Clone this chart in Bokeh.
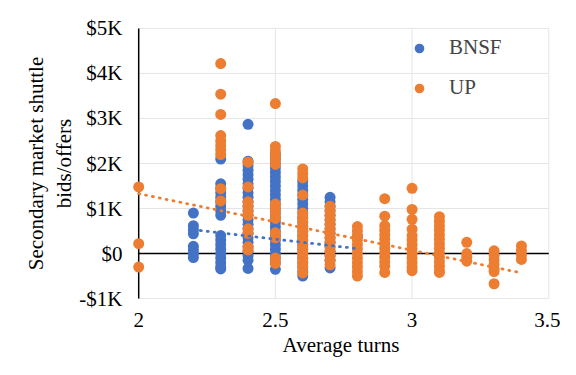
from bokeh.plotting import figure
from bokeh.models import Range1d, FixedTicker, CustomJSTickFormatter, Legend, LegendItem
from bokeh.embed import file_html
from bokeh.resources import INLINE

# ---- data (turns, bids/offers in $) ----
bnsf_turns = ([2.2] * 8 + [2.3] * 18 + [2.4] * 25 + [2.5] * 26 + [2.6] * 22 + [2.7] * 16 + [2.8])
bnsf_bids = [
    # 2.2
    900, 620, 530, 440, 160, 80, 0, -90,
    # 2.3
    2100, 1550, 1450, 1350, 1250, 1150, 1050, 950, 850, 400, 300, 200, 100, 0, -100, -200, -300, -340,
    # 2.4
    2870, 2050, 1950, 1850, 1750, 1650, 1550, 1450, 1350, 1250, 1150, 1050, 950, 850, 750, 650, 550,
    450, 350, 250, 150, 50, -50, -150, -330,
    # 2.5
    2200, 2100, 2000, 1900, 1800, 1700, 1600, 1500, 1400, 1300, 1200, 1100, 1000, 900, 800, 700, 600,
    500, 400, 300, 200, 100, 0, -100, -200, -350,
    # 2.6
    1600, 1500, 1400, 1300, 1200, 1100, 1000, 900, 800, 700, 600, 500, 400, 300, 200, 100, 0, -100,
    -200, -300, -400, -500,
    # 2.7
    1250, 1150, 1050, 950, 850, 750, 650, 550, 450, 350, 250, 150, 50, -50, -150, -320,
    # 2.8
    380,
]
up_turns = ([2.0] * 3 + [2.3] * 10 + [2.4] * 10 + [2.5] * 14 + [2.6] * 18 + [2.7] * 14 + [2.8] * 12
            + [2.9] * 13 + [3.0] * 13 + [3.1] * 14 + [3.2] * 4 + [3.3] * 7 + [3.4] * 4)
up_bids = [
    # 2.0
    1480, 220, -300,
    # 2.3
    4220, 3540, 3090, 2620, 2500, 2400, 2300, 2200, 1440, 1170,
    # 2.4
    2030, 1480, 1150, 1050, 950, 850, 550, 450, 150, 80,
    # 2.5
    3330, 2380, 2280, 2180, 2080, 1980, 1100, 1000, 900, 780, 460, 350, -100, -220,
    # 2.6
    1880, 1780, 1680, 1300, 900, 800, 700, 600, 500, 400, 300, 200, 100, 0, -100, -200, -300, -430,
    # 2.7
    1050, 950, 850, 750, 650, 550, 450, 350, 250, 150, 50, -50, -150, -250,
    # 2.8
    600, 500, 400, 300, 200, 100, 0, -100, -200, -300, -400, -500,
    # 2.9
    1220, 830, 620, 520, 420, 320, 220, 120, 20, -80, -180, -280, -420,
    # 3.0
    1450, 980, 760, 540, 400, 300, 200, 100, 0, -100, -200, -300, -380,
    # 3.1
    820, 720, 620, 520, 420, 320, 220, 120, 20, -80, -180, -280, -380, -420,
    # 3.2
    250, 0, -80, -170,
    # 3.3
    60, -40, -140, -240, -340, -400, -670,
    # 3.4
    170, 70, -30, -130,
]
# linear trend lines
bnsf_trend_turns = [2.2, 2.8]
bnsf_trend_bids = [530, 110]
up_trend_turns = [2.0, 3.4]
up_trend_bids = [1330, -430]

x_ticks = [2, 2.5, 3, 3.5]
y_ticks = [-1000, 0, 1000, 2000, 3000, 4000, 5000]

BLUE = "#4472C4"
ORANGE = "#ED7D31"
FONT = "'Liberation Serif'"

p = figure(width=560, height=359, x_range=Range1d(1.97, 3.51), y_range=Range1d(-1020, 5020),
           output_backend="svg", toolbar_location=None,
           min_border_left=130, min_border_right=9, min_border_top=27, min_border_bottom=60)
p.outline_line_color = None
p.xgrid.visible = False
p.ygrid.visible = False

# gridlines
p.segment(x0=x_ticks[0], x1=x_ticks[-1], y0=y_ticks, y1=y_ticks, line_color="#E5E5E5", line_width=1)
p.segment(x0=x_ticks[1:], x1=x_ticks[1:], y0=y_ticks[0], y1=y_ticks[-1], line_color="#E5E5E5", line_width=1)
# axis lines
p.segment(x0=[x_ticks[0]], x1=[x_ticks[-1]], y0=[0], y1=[0], line_color="black", line_width=1.5)
p.segment(x0=[x_ticks[0]], x1=[x_ticks[0]], y0=[y_ticks[0]], y1=[y_ticks[-1]], line_color="black", line_width=1.5)

r_b = p.scatter(bnsf_turns, bnsf_bids, size=11, fill_color=BLUE, line_color=None)
r_u = p.scatter(up_turns, up_bids, size=11, fill_color=ORANGE, line_color=None)

p.line(bnsf_trend_turns, bnsf_trend_bids, line_color=BLUE, line_width=2.8, line_dash="1 6", line_cap="round")
p.line(up_trend_turns, up_trend_bids, line_color=ORANGE, line_width=2.8, line_dash="1 6", line_cap="round")

for ax in (p.xaxis[0], p.yaxis[0]):
    ax.axis_line_color = None
    ax.major_tick_line_color = None
    ax.minor_tick_line_color = None
    ax.major_label_text_font = FONT
    ax.major_label_text_font_size = "21px"
    ax.major_label_text_color = "black"
    ax.axis_label_text_font = FONT
    ax.axis_label_text_font_size = "21px"
    ax.axis_label_text_font_style = "normal"
    ax.axis_label_text_color = "black"

p.xaxis.ticker = FixedTicker(ticks=x_ticks)
p.yaxis.ticker = FixedTicker(ticks=y_ticks)
p.yaxis.formatter = CustomJSTickFormatter(code="""
    const a = Math.abs(tick);
    const s = a >= 1000 ? (a / 1000) + 'K' : String(a);
    return (tick < 0 ? '-' : '') + '$' + s;
""")
p.xaxis.major_label_standoff = 7
p.xaxis.axis_label_standoff = 3
p.xaxis.axis_label = "Average turns"
p.yaxis.major_label_standoff = 2
p.yaxis.axis_label_standoff = 0
p.yaxis.axis_label = "Secondary market shuttle\nbids/offers"

legend = Legend(items=[LegendItem(label="BNSF", renderers=[r_b]), LegendItem(label="UP", renderers=[r_u])],
                location=(277, 199), border_line_color=None, background_fill_alpha=0,
                padding=0, margin=0, spacing=15, glyph_width=24, glyph_height=24, label_height=20,
                label_standoff=18, label_text_font=FONT, label_text_font_size="21px")
p.add_layout(legend)

open("out.html", "w").write(file_html(p, INLINE))
